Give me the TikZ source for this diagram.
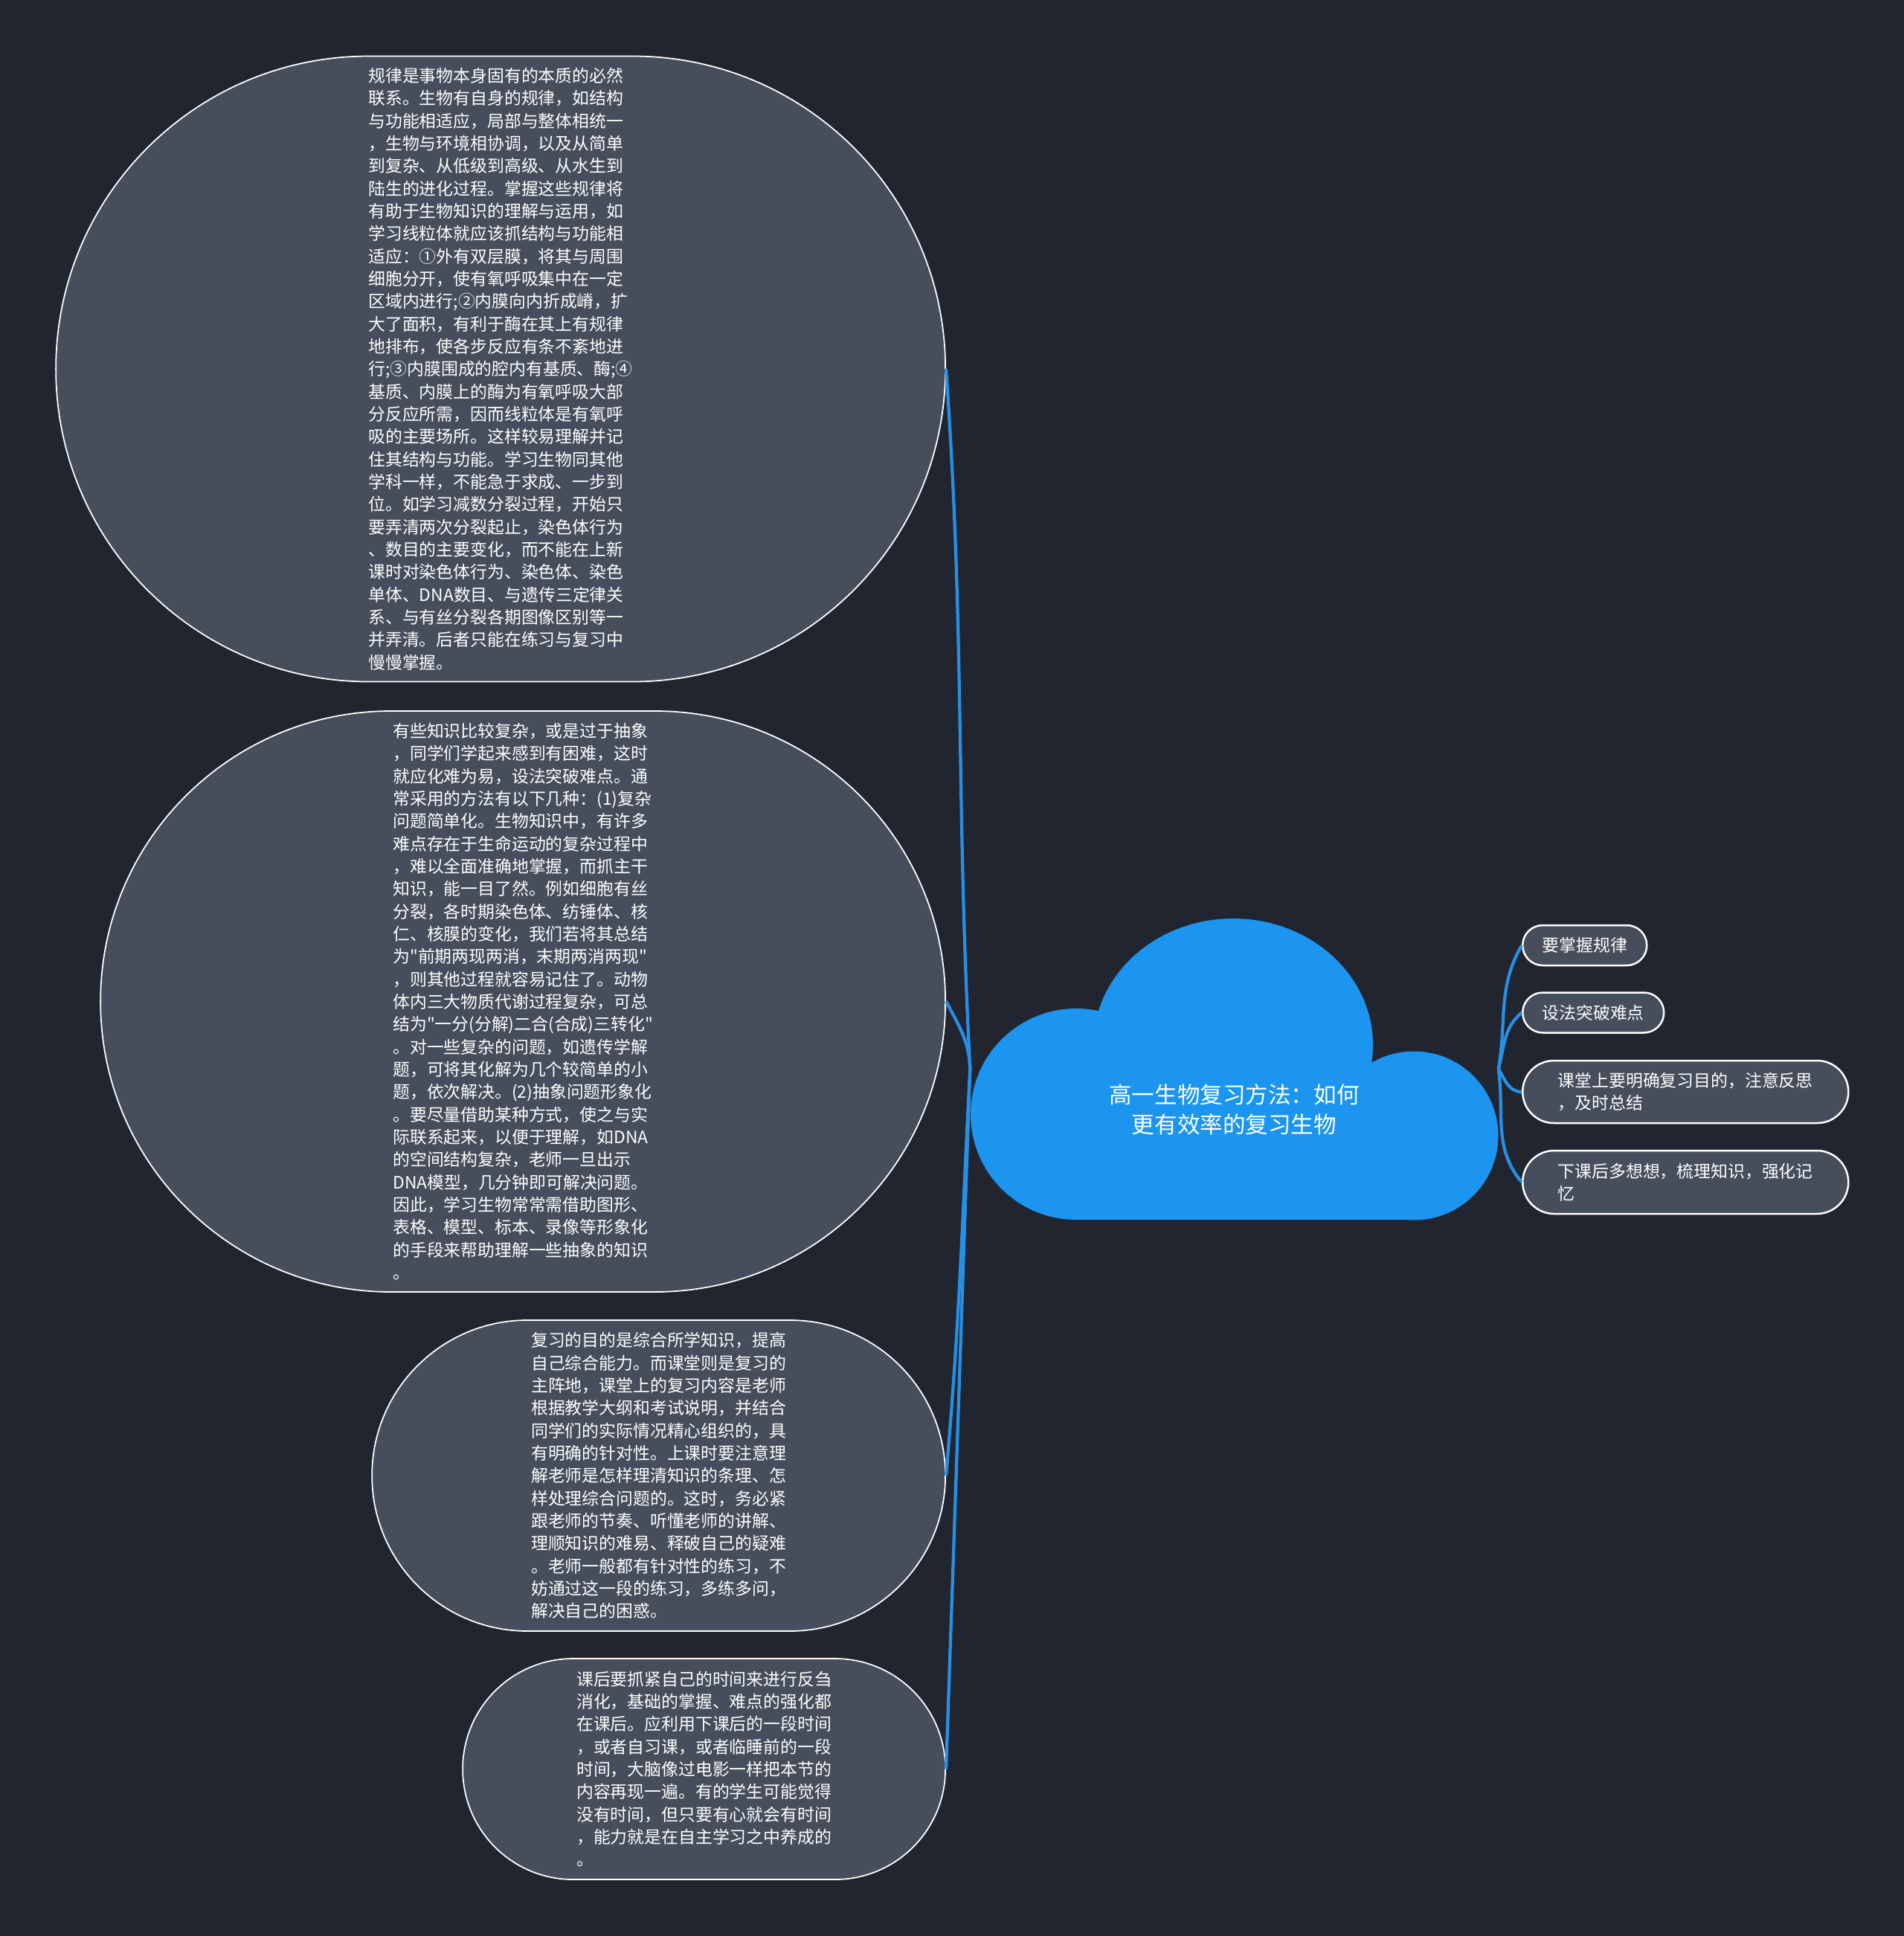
\documentclass[tikz,border=0pt]{standalone}
\usepackage{fontspec}
\setmainfont{Noto Sans CJK SC}
\newfontfamily\cjk{Noto Sans CJK SC}
\definecolor{bgdark}{HTML}{21252F}
\definecolor{topicgray}{HTML}{464D5B}
\definecolor{cloudblue}{HTML}{1B95EF}
\definecolor{linkblue}{HTML}{2690E6}
\usetikzlibrary{shapes.misc, backgrounds}

\begin{document}
\begin{tikzpicture}[
  topic/.style={rounded rectangle, draw=white, line width=0.5pt, fill=topicgray,
                text=white, align=left, inner sep=0pt,
                font=\cjk\fontsize{6.5}{8.63}\selectfont},
  sub/.style={rounded rectangle, draw=white, line width=0.7pt, fill=topicgray,
              text=white, align=left, inner sep=0pt, minimum height=0.54cm,
              font=\cjk\fontsize{6.5}{8.63}\selectfont},
  root/.style={rectangle, minimum width=7.09cm, minimum height=4.06cm, inner sep=0pt},
  title/.style={text=white, align=center, anchor=center, inner sep=0pt,
                font=\cjk\fontsize{8.7}{11.4}\selectfont},
  link/.style={draw=linkblue, line width=1.2pt}
]
\node[root, label={[title, yshift=1.49cm]below:{高一生物复习方法：如何\\更有效率的复习生物}}] (root) at (16.595,-14.37) {};

\node[topic, anchor=east, minimum width=11.96cm, minimum height=8.41cm] (t1) at (12.72,-4.96) {规律是事物本身固有的本质的必然\\
联系。生物有自身的规律，如结构\\
与功能相适应，局部与整体相统一\\
，生物与环境相协调，以及从简单\\
到复杂、从低级到高级、从水生到\\
陆生的进化过程。掌握这些规律将\\
有助于生物知识的理解与运用，如\\
学习线粒体就应该抓结构与功能相\\
适应：①外有双层膜，将其与周围\\
细胞分开，使有氧呼吸集中在一定\\
区域内进行;②内膜向内折成嵴，扩\\
大了面积，有利于酶在其上有规律\\
地排布，使各步反应有条不紊地进\\
行;③内膜围成的腔内有基质、酶;④\\
基质、内膜上的酶为有氧呼吸大部\\
分反应所需，因而线粒体是有氧呼\\
吸的主要场所。这样较易理解并记\\
住其结构与功能。学习生物同其他\\
学科一样，不能急于求成、一步到\\
位。如学习减数分裂过程，开始只\\
要弄清两次分裂起止，染色体行为\\
、数目的主要变化，而不能在上新\\
课时对染色体行为、染色体、染色\\
单体、DNA数目、与遗传三定律关\\
系、与有丝分裂各期图像区别等一\\
并弄清。后者只能在练习与复习中\\
慢慢掌握。};

\node[topic, anchor=east, minimum width=11.36cm, minimum height=7.81cm] (t2) at (12.72,-13.465) {有些知识比较复杂，或是过于抽象\\
，同学们学起来感到有困难，这时\\
就应化难为易，设法突破难点。通\\
常采用的方法有以下几种：(1)复杂\\
问题简单化。生物知识中，有许多\\
难点存在于生命运动的复杂过程中\\
，难以全面准确地掌握，而抓主干\\
知识，能一目了然。例如细胞有丝\\
分裂，各时期染色体、纺锤体、核\\
仁、核膜的变化，我们若将其总结\\
为"前期两现两消，末期两消两现"\\
，则其他过程就容易记住了。动物\\
体内三大物质代谢过程复杂，可总\\
结为"一分(分解)二合(合成)三转化"\\
。对一些复杂的问题，如遗传学解\\
题，可将其化解为几个较简单的小\\
题，依次解决。(2)抽象问题形象化\\
。要尽量借助某种方式，使之与实\\
际联系起来，以便于理解，如DNA\\
的空间结构复杂，老师一旦出示\\
DNA模型，几分钟即可解决问题。\\
因此，学习生物常常需借助图形、\\
表格、模型、标本、录像等形象化\\
的手段来帮助理解一些抽象的知识\\
。};

\node[topic, anchor=east, minimum width=7.71cm, minimum height=4.18cm] (t3) at (12.72,-19.84) {复习的目的是综合所学知识，提高\\
自己综合能力。而课堂则是复习的\\
主阵地，课堂上的复习内容是老师\\
根据教学大纲和考试说明，并结合\\
同学们的实际情况精心组织的，具\\
有明确的针对性。上课时要注意理\\
解老师是怎样理清知识的条理、怎\\
样处理综合问题的。这时，务必紧\\
跟老师的节奏、听懂老师的讲解、\\
理顺知识的难易、释破自己的疑难\\
。老师一般都有针对性的练习，不\\
妨通过这一段的练习，多练多问，\\
解决自己的困惑。};

\node[topic, anchor=east, minimum width=6.49cm, minimum height=2.97cm] (t4) at (12.72,-23.785) {课后要抓紧自己的时间来进行反刍\\
消化，基础的掌握、难点的强化都\\
在课后。应利用下课后的一段时间\\
，或者自习课，或者临睡前的一段\\
时间，大脑像过电影一样把本节的\\
内容再现一遍。有的学生可能觉得\\
没有时间，但只要有心就会有时间\\
，能力就是在自主学习之中养成的\\
。};

\node[sub, anchor=west, minimum width=1.67cm] (r1) at (20.46,-12.71) {要掌握规律};
\node[sub, anchor=west, minimum width=1.90cm] (r2) at (20.46,-13.615) {设法突破难点};
\node[sub, anchor=west, minimum width=4.38cm, minimum height=0.84cm] (r3) at (20.46,-14.68) {课堂上要明确复习目的，注意反思\\，及时总结};
\node[sub, anchor=west, minimum width=4.38cm, minimum height=0.85cm] (r4) at (20.46,-15.895) {下课后多想想，梳理知识，强化记\\忆};

\begin{scope}[on background layer]
  \fill[bgdark] (0,0) rectangle (25.60,-26.03);
  \begin{scope}[shift={(root.center)}]
    \fill[cloudblue] (-0.015,0.32) ellipse [x radius=1.88, y radius=1.70];
    \fill[cloudblue] (-2.125,-0.61) circle [radius=1.42];
    \fill[cloudblue] (2.415,-0.90) circle [radius=1.135];
    \fill[cloudblue] (-2.125,-2.03) rectangle (2.415,-0.60);
  \end{scope}
\end{scope}

\draw[link] (root.west) to[out=93, in=-86] (t1.east);
\draw[link] (root.west) to[out=92, in=-62] (t2.east);
\draw[link] (root.west) to[out=-93, in=85] (t3.east);
\draw[link] (root.west) to[out=-92, in=88] (t4.east);

\draw[link] (root.east) to[out=80, in=-120] (r1.west);
\draw[link] (root.east) to[out=75, in=-140] (r2.west);
\draw[link] (root.east) to[out=-60, in=180] (r3.west);
\draw[link] (root.east) to[out=-82, in=130] (r4.west);
\end{tikzpicture}
\end{document}
